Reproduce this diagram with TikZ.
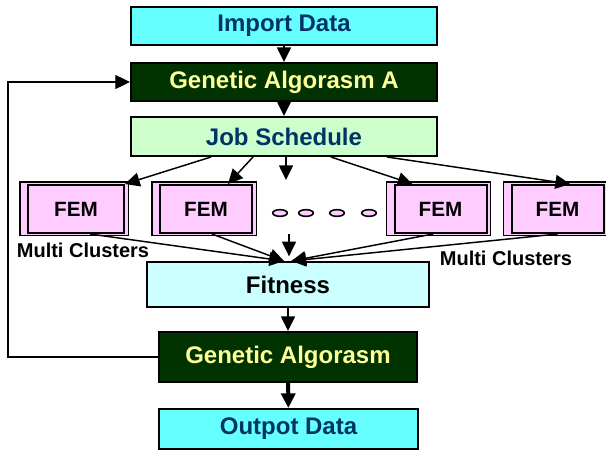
\documentclass[tikz,border=0pt]{standalone}
\usepackage{fontspec}
\setmainfont{Liberation Sans}
\usetikzlibrary{arrows.meta,shapes.geometric,backgrounds}
\definecolor{datacyan}{HTML}{66FFFF}
\definecolor{gadark}{HTML}{003300}
\definecolor{gatext}{HTML}{FFFF99}
\definecolor{jobgreen}{HTML}{CCFFCC}
\definecolor{navytext}{HTML}{003366}
\definecolor{fitcyan}{HTML}{CCFFFF}
\definecolor{fempink}{HTML}{FFCCFF}
\begin{document}
\begin{tikzpicture}[x=0.75pt, y=-0.75pt,
  box/.style={rectangle, draw, line width=1.5pt, inner sep=0pt, font=\bfseries\fontsize{18}{21}\selectfont},
  fembox/.style={box, fill=fempink, minimum width=69pt, minimum height=36pt, font=\bfseries\fontsize{15.5}{18}\selectfont},
  femframe/.style={draw, line width=0.8pt, fill=fempink},
  dot/.style={ellipse, draw, line width=1.2pt, fill=fempink, minimum width=11pt, minimum height=5pt, inner sep=0pt},
  note/.style={font=\bfseries\fontsize{15}{18}\selectfont},
  arr/.style={-{Triangle[length=11pt, width=10.5pt]}, line width=1.1pt}]
  \useasboundingbox (0,0) rectangle (606,450);
  % Nodes
  \node (imp) [box, fill=datacyan, text=navytext, minimum width=229.5pt, minimum height=28.5pt] at (284,26) {Import Data};
  \node (gaa) [box, fill=gadark, text=gatext, minimum width=229.5pt, minimum height=28.5pt] at (284,82) {Genetic Algorasm A};
  \node (job) [box, fill=jobgreen, text=navytext, minimum width=229.5pt, minimum height=29.25pt] at (284,136.5) {Job Schedule};
  \node (fem1) [fembox, minimum width=72pt] at (76,209) {FEM};
  \node (fem2) [fembox] at (206,209) {FEM};
  \node (fem3) [fembox] at (440.5,209) {FEM};
  \node (fem4) [fembox] at (557.5,209) {FEM};
  \foreach \x [count=\i] in {280,306,337,369}
    \node (dot\i) [dot] at (\x,213) {};
  \node (mcl) [note] at (83,250) {Multi Clusters};
  \node (mcr) [note] at (506,258) {Multi Clusters};
  \node (fit) [box, fill=fitcyan, minimum width=211.5pt, minimum height=33.75pt] at (288,284.5) {Fitness};
  \node (ga) [box, fill=gadark, text=gatext, minimum width=193.5pt, minimum height=37.5pt] at (288,357) {Genetic Algorasm};
  \node (out) [box, fill=datacyan, text=navytext, minimum width=194.25pt, minimum height=30pt] at (288.5,429) {Outpot Data};
  \coordinate (gap) at (286,180);
  \coordinate (gap2) at (289,234);
  \coordinate (fb) at (8,220);
  % Frames behind the FEM boxes
  \begin{scope}[on background layer]
    \foreach \f in {fem1,fem2,fem3,fem4}
      \draw[femframe] ([xshift=-5.25pt,yshift=1.5pt]\f.north west) rectangle ([xshift=2.5pt,yshift=-1pt]\f.south east);
  \end{scope}
  % Arrows
  \draw[arr] (imp) -- (gaa);
  \draw[arr] (gaa) -- (job);
  \draw[arr] ([xshift=-54.75pt]job.south) -- (fem1.north east);
  \draw[arr] ([xshift=-23.25pt]job.south) -- ([xshift=16.5pt]fem2.north);
  \draw[arr] (job.south -| gap) -- (gap);
  \draw[arr] ([xshift=35.25pt]job.south) -- ([xshift=-21pt]fem3.north);
  \draw[arr] ([xshift=77.25pt]job.south) -- ([xshift=9.4pt]fem4.north);
  \draw[arr] ([xshift=10.5pt]fem1.south) -- ([xshift=-3pt]fit.north);
  \draw[arr] ([xshift=4.5pt]fem2.south) -- ([xshift=-3pt]fit.north);
  \draw[arr] ([xshift=-5.6pt]fem3.south) -- ([xshift=2.5pt]fit.north);
  \draw[arr] (fem4.south) -- ([xshift=2.5pt]fit.north);
  \draw[arr, shorten >=3.5pt] (gap2) -- (gap2 |- fit.north);
  \draw[arr] (fit) -- (ga);
  \draw[arr, line width=3pt] (ga) -- (out);
  % Loop back
  \draw[arr, line width=0.9pt] (ga.west) -| (fb) |- (gaa.west);
\end{tikzpicture}
\end{document}
